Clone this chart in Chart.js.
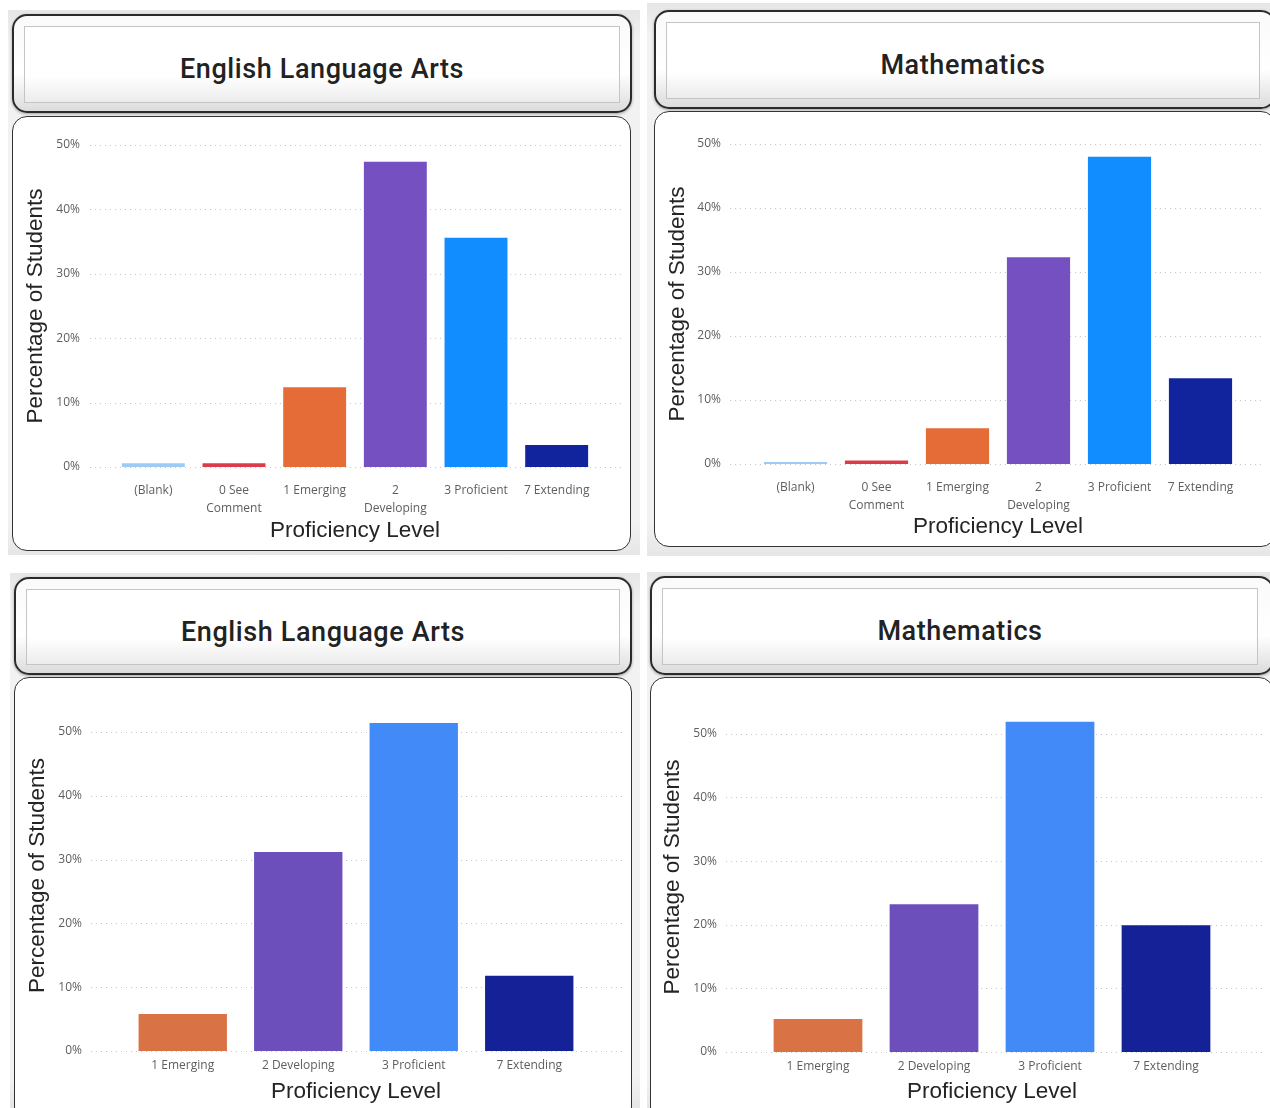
<!DOCTYPE html>
<html lang="en">
<head>
    <meta charset="UTF-8">
    <title>Proficiency Levels</title>
    <script src="https://cdn.jsdelivr.net/npm/chart.js"></script>
    <style>
        html, body { margin: 0; padding: 0; background: #fff; }
        body { width: 1270px; height: 1108px; position: relative; overflow: hidden; }
        .wrap { position: absolute; background: linear-gradient(#e6e6e6, #f2f2f2 6%, #f2f2f2 94%, #e6e6e6); }
        .header {
            position: absolute; box-sizing: border-box;
            border: 2px solid #2b2b2b; border-radius: 15px;
            background: linear-gradient(#fafafa, #ffffff 60%, #dcdcdc);
            box-shadow: 0 1px 3px rgba(0,0,0,0.35);
        }
        .inner {
            position: absolute; left: 10px; right: 10px; top: 10px; bottom: 8px;
            border: 1.5px solid #c4c4c4;
            background: linear-gradient(#ffffff, #ffffff 65%, #ececec);
            display: flex; align-items: center; justify-content: center;
            font-family: "Roboto", "DejaVu Sans", sans-serif; font-weight: 500;
            font-size: 27px; color: #222; padding-top: 9px; box-sizing: border-box;
            letter-spacing: 0.6px;
        }
        .box {
            position: absolute; box-sizing: border-box;
            border: 1.5px solid #333; border-radius: 15px; background: #fff;
        }
        canvas { position: absolute; }
    </style>
</head>
<body>
    <div class="wrap" style="left:8px;top:10px;width:632px;height:545px"></div>
    <div class="wrap" style="left:647px;top:3px;width:623px;height:553px"></div>
    <div class="wrap" style="left:10px;top:573px;width:630px;height:535px"></div>
    <div class="wrap" style="left:647px;top:572px;width:623px;height:536px"></div>

    <div class="header" style="left:12px;top:14px;width:620px;height:99px"><div class="inner">English Language Arts</div></div>
    <div class="header" style="left:654px;top:10px;width:622px;height:99px"><div class="inner" style="right:14px">Mathematics</div></div>
    <div class="header" style="left:14px;top:577px;width:618px;height:98px"><div class="inner">English Language Arts</div></div>
    <div class="header" style="left:650px;top:576px;width:624px;height:99px"><div class="inner" style="right:14px">Mathematics</div></div>

    <div class="box" style="left:12px;top:116px;width:619px;height:435px"></div>
    <div class="box" style="left:654px;top:111px;width:622px;height:436px"></div>
    <div class="box" style="left:14px;top:677px;width:618px;height:445px"></div>
    <div class="box" style="left:650px;top:677px;width:624px;height:445px"></div>

    <canvas id="elaTop"></canvas>
    <canvas id="mathTop"></canvas>
    <canvas id="elaBottom"></canvas>
    <canvas id="mathBottom"></canvas>

    <script>
        // categories
        const levelsFull = ['(Blank)', ['0 See', 'Comment'], '1 Emerging', ['2', 'Developing'], '3 Proficient', '7 Extending'];
        const levelsShort = ['1 Emerging', '2 Developing', '3 Proficient', '7 Extending'];

        // percentage of students
        const elaTopValues = [0.6, 0.6, 12.4, 47.4, 35.6, 3.4];
        const mathTopValues = [0.3, 0.55, 5.6, 32.3, 48.0, 13.4];
        const elaBottomValues = [5.8, 31.2, 51.4, 11.8];
        const mathBottomValues = [5.2, 23.2, 51.9, 19.9];

        // y ticks
        const yTicks = [0, 10, 20, 30, 40, 50];

        const colorsTop = ['#9ecbf6', '#dc3c4a', '#e56c36', '#7450c0', '#118dff', '#12239e'];
        const colorsBottom = ['#d97346', '#6c4fbb', '#428af7', '#152197'];

        // dotted gridlines extending past the bars, like Power BI
        const wideGrid = {
            id: 'wideGrid',
            beforeDatasetsDraw(chart, args, opts) {
                const y = chart.scales.y;
                const ctx = chart.ctx;
                ctx.save();
                ctx.strokeStyle = '#c8c8c8';
                ctx.lineWidth = 1;
                ctx.setLineDash([1, 4]);
                yTicks.forEach(t => {
                    const py = Math.round(y.getPixelForValue(t)) + 0.5;
                    ctx.beginPath();
                    ctx.moveTo(chart.chartArea.left - opts.extL, py);
                    ctx.lineTo(chart.chartArea.right + opts.extR, py);
                    ctx.stroke();
                });
                ctx.restore();
            }
        };

        function makeChart(id, box, area, yMax, labels, values, colors, cfg) {
            const canvas = document.getElementById(id);
            canvas.width = box.w;
            canvas.height = box.h;
            canvas.style.left = box.x + 'px';
            canvas.style.top = box.y + 'px';

            return new Chart(canvas, {
                type: 'bar',
                data: {
                    labels: labels,
                    datasets: [{
                        data: values,
                        backgroundColor: colors,
                        borderWidth: 0,
                        barPercentage: cfg.barPct,
                        categoryPercentage: 1
                    }]
                },
                options: {
                    responsive: false,
                    animation: false,
                    devicePixelRatio: 1,
                    layout: {
                        padding: {
                            left: 0,
                            top: area.top - box.y,
                            right: box.x + box.w - area.right,
                            bottom: 0
                        }
                    },
                    plugins: {
                        legend: { display: false },
                        tooltip: { enabled: false },
                        wideGrid: { extL: cfg.extL, extR: cfg.extR }
                    },
                    scales: {
                        x: {
                            grid: { display: false, drawTicks: false },
                            border: { display: false },
                            ticks: {
                                color: '#605e5c',
                                padding: cfg.xPad,
                                maxRotation: 0,
                                autoSkip: false,
                                font: { family: 'Open Sans', size: 12, lineHeight: 1.5 }
                            },
                            title: {
                                display: true,
                                text: 'Proficiency Level',
                                color: '#252423',
                                font: { family: 'Liberation Sans', size: 22.5, lineHeight: 1.2 },
                                padding: { top: 0, bottom: cfg.xTitlePad }
                            },
                            afterFit: s => {
                                s.height = box.y + box.h - area.bottom;
                                s.paddingLeft = 0;
                                s.paddingRight = 0;
                            }
                        },
                        y: {
                            min: 0,
                            max: yMax,
                            grid: { display: false, drawTicks: false },
                            border: { display: false },
                            afterBuildTicks: s => { s.ticks = yTicks.map(v => ({ value: v })); },
                            ticks: {
                                color: '#605e5c',
                                padding: cfg.yPad,
                                font: { family: 'Open Sans', size: 12 },
                                callback: v => v + '%'
                            },
                            title: {
                                display: true,
                                text: 'Percentage of Students',
                                color: '#252423',
                                font: { family: 'Liberation Sans', size: 22.5, lineHeight: 1.2 },
                                padding: { top: cfg.yTitlePad, bottom: 0 }
                            },
                            afterFit: s => {
                                s.width = area.left - box.x;
                                s.paddingTop = 0;
                                s.paddingBottom = 0;
                            }
                        }
                    }
                },
                plugins: [wideGrid]
            });
        }

        makeChart('elaTop',
            { x: 12, y: 116, w: 619, h: 435 },
            { left: 113, right: 597, top: 145, bottom: 467 }, 50,
            levelsFull, elaTopValues, colorsTop,
            { barPct: 0.78, extL: 23, extR: 25, xPad: 15, xTitlePad: 6.5, yPad: 33, yTitlePad: 10 });

        makeChart('mathTop',
            { x: 654, y: 111, w: 616, h: 436 },
            { left: 755, right: 1241, top: 144, bottom: 464 }, 50,
            levelsFull, mathTopValues, colorsTop,
            { barPct: 0.78, extL: 25, extR: 24, xPad: 15, xTitlePad: 7, yPad: 34, yTitlePad: 10 });

        makeChart('elaBottom',
            { x: 14, y: 677, w: 618, h: 431 },
            { left: 125, right: 587, top: 700, bottom: 1051 }, 55,
            levelsShort, elaBottomValues, colorsBottom,
            { barPct: 0.765, extL: 34, extR: 35, xPad: 6, xTitlePad: 2.5, yPad: 43, yTitlePad: 10 });

        makeChart('mathBottom',
            { x: 650, y: 677, w: 620, h: 431 },
            { left: 760, right: 1224, top: 702, bottom: 1052 }, 55,
            levelsShort, mathBottomValues, colorsBottom,
            { barPct: 0.765, extL: 34, extR: 41, xPad: 6, xTitlePad: 2.5, yPad: 43, yTitlePad: 9 });
    </script>
</body>
</html>
